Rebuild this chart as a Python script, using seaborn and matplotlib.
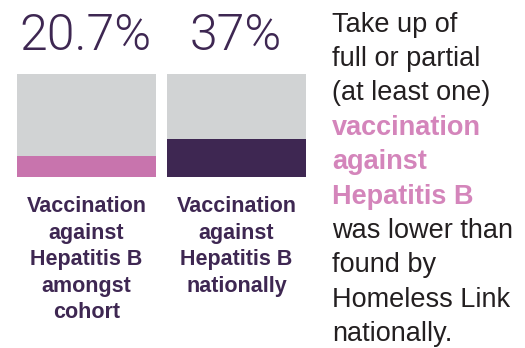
import matplotlib
matplotlib.use("Agg")
import matplotlib.pyplot as plt
import seaborn as sns

# data
groups = ["cohort", "national"]
values = [20.7, 37]
value_labels = ["20.7%", "37%"]
bar_labels = [["Vaccination", "against", "Hepatitis B", "amongst", "cohort"],
              ["Vaccination", "against", "Hepatitis B", "nationally"]]
side_lines = ["Take up of", "full or partial", "(at least one)",
              "vaccination", "against", "Hepatitis B",
              "was lower than", "found by", "Homeless Link", "nationally."]
highlight = [False, False, False, True, True, True, False, False, False, False]

pink = "#c874ad"
purple = "#3e2752"
grey = "#d1d3d4"
text_dark = "#231f20"
side_pink = "#d485bb"

sns.set_theme(style="white")
plt.rcParams["font.family"] = ["Liberation Sans", "DejaVu Sans"]

W, H = 525, 348
fig = plt.figure(figsize=(W / 100, H / 100), dpi=100)

# bar area: x=17..306 px, y=74..177 px
ax = fig.add_axes([17 / W, 1 - 177 / H, (306 - 17) / W, (177 - 74) / H])
w = 139 / 150
sns.barplot(x=groups, y=[100, 100], color=grey, width=w, ax=ax,
            saturation=1, edgecolor="none")
sns.barplot(x=groups, y=values, hue=groups, palette=[pink, purple],
            width=w, ax=ax, saturation=1, legend=False, edgecolor="none")
ax.set_xlim(-w / 2, 1 + w / 2)
ax.set_ylim(0, 100)
ax.axis("off")


def px(x, y):
    return x / W, 1 - y / H


centers = [85, 236]
for cx, lab in zip(centers, value_labels):
    fig.text(*px(cx, 49.5), lab, ha="center", va="baseline", fontsize=36,
             color=purple, family="Roboto", fontweight=300)

for cx, lines in zip([86.5, 236.5], bar_labels):
    for k, line in enumerate(lines):
        fig.text(*px(cx, 212.5 + k * 26.4), line, ha="center", va="baseline",
                 fontsize=15.5, fontweight="bold", color=purple)

y0, step = 31.7, 34.4
for i, (line, hl) in enumerate(zip(side_lines, highlight)):
    fig.text(*px(332, y0 + i * step), line, ha="left", va="baseline",
             fontsize=19.5, color=side_pink if hl else text_dark,
             fontweight="bold" if hl else "normal")

fig.savefig("out.png", dpi=100)
